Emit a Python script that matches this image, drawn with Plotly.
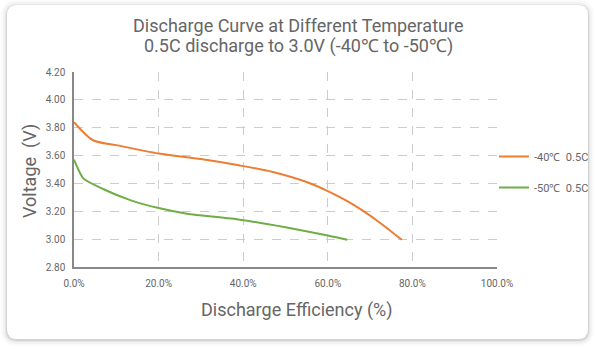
import plotly.graph_objects as go

# Data
eff_40 = [0, 4.5, 10, 20, 30, 39, 47, 55, 60, 64.5, 68, 72, 77.5]
volt_40 = [3.84, 3.71, 3.675, 3.615, 3.575, 3.53, 3.482, 3.41, 3.345, 3.275, 3.21, 3.125, 2.995]
eff_50 = [0, 2.2, 7, 13.3, 20, 26.7, 39.2, 50, 60, 64.6]
volt_50 = [3.57, 3.436, 3.358, 3.28, 3.223, 3.183, 3.14, 3.085, 3.026, 2.995]
names = ["-40℃  0.5C", "-50℃  0.5C"]
x_ticks = [0, 20, 40, 60, 80, 100]
y_ticks = [2.8, 3.0, 3.2, 3.4, 3.6, 3.8, 4.0, 4.2]
title_lines = ["Discharge Curve at Different Temperature", "0.5C discharge to 3.0V (-40℃ to -50℃)"]
x_title = "Discharge Efficiency (%)"
y_title = "Voltage  (V)"

FONT = "Roboto"
GRAY = "#666666"

W, H = 596, 349
L, R, T, B = 74, 99, 72, 82
pw, ph = W - L - R, H - T - B


def px2paper_x(px):
    return (px - L) / pw


def py2paper_y(py):
    return (H - B - py) / ph


def rounded_paper(x0, y0, x1, y1, r):
    rx = r / pw
    ry = r / ph
    X0, X1 = px2paper_x(x0), px2paper_x(x1)
    Y0, Y1 = py2paper_y(y1), py2paper_y(y0)
    return (f"M {X0+rx},{Y0} L {X1-rx},{Y0} Q {X1},{Y0} {X1},{Y0+ry} L {X1},{Y1-ry} "
            f"Q {X1},{Y1} {X1-rx},{Y1} L {X0+rx},{Y1} Q {X0},{Y1} {X0},{Y1-ry} "
            f"L {X0},{Y0+ry} Q {X0},{Y0} {X0+rx},{Y0} Z")


fig = go.Figure()
fig.add_trace(go.Scatter(x=eff_40, y=volt_40, mode="lines", name=names[0],
                         line=dict(color="#ED7D31", width=2, shape="spline", smoothing=0.8),
                         legendgroup="a"))
fig.add_trace(go.Scatter(x=eff_50, y=volt_50, mode="lines", name=names[1],
                         line=dict(color="#70AD47", width=2, shape="spline", smoothing=0.6),
                         legendgroup="b"))

shapes = []
for spread, op in [(6, 0.02), (4, 0.03), (2, 0.05), (1, 0.07)]:
    shapes.append(dict(type="path", xref="paper", yref="paper", layer="below",
                       path=rounded_paper(7 - spread, 5 - spread + 1, 588 + spread, 339 + spread + 1, 10 + spread),
                       line=dict(width=0), fillcolor=f"rgba(0,0,0,{op})"))
shapes.append(dict(type="path", xref="paper", yref="paper", layer="below",
                   path=rounded_paper(7, 5, 588, 339, 10),
                   line=dict(width=0), fillcolor="white"))

annotations = [
    dict(text=title_lines[0], xref="paper", yref="paper", x=px2paper_x(298), y=py2paper_y(26),
         xanchor="center", yanchor="middle", showarrow=False, font=dict(size=18, color=GRAY, family=FONT)),
    dict(text=title_lines[1], xref="paper", yref="paper", x=px2paper_x(298), y=py2paper_y(46),
         xanchor="center", yanchor="middle", showarrow=False, font=dict(size=18, color=GRAY, family=FONT)),
    dict(text=x_title, xref="paper", yref="paper", x=px2paper_x(297), y=py2paper_y(310),
         xanchor="center", yanchor="middle", showarrow=False, font=dict(size=18, color=GRAY, family=FONT)),
    dict(text=y_title, xref="paper", yref="paper", x=px2paper_x(30), y=py2paper_y(171),
         xanchor="center", yanchor="middle", textangle=-90, showarrow=False,
         font=dict(size=18, color=GRAY, family=FONT)),
]

fig.update_layout(
    width=W, height=H,
    margin=dict(l=L, r=R, t=T, b=B, autoexpand=False),
    paper_bgcolor="white", plot_bgcolor="rgba(0,0,0,0)",
    shapes=shapes,
    annotations=annotations,
    font=dict(family=FONT, color=GRAY),
    xaxis=dict(range=[0, 100], tickvals=x_ticks, ticktext=[f"{v:.1f}%" for v in x_ticks],
               showgrid=True, gridcolor="#cccccc", griddash="dash", gridwidth=1,
               showline=True, linecolor="#888888", linewidth=1.5, zeroline=False,
               ticks="", tickfont=dict(size=10, color=GRAY), ticklabelstandoff=6,
               automargin=False),
    yaxis=dict(range=[2.8, 4.2], tickvals=y_ticks, ticktext=[f"{v:.2f}" for v in y_ticks],
               showgrid=True, gridcolor="#cccccc", griddash="dash", gridwidth=1,
               showline=True, linecolor="#888888", linewidth=1.5, zeroline=False,
               ticks="", tickfont=dict(size=10, color=GRAY), ticklabelstandoff=5,
               automargin=False),
    legend=dict(xref="container", x=494 / W, xanchor="left",
                yref="container", y=1 - 172 / H, yanchor="middle",
                font=dict(size=11, color=GRAY, family=FONT), tracegroupgap=12,
                bgcolor="rgba(0,0,0,0)", itemwidth=30),
    showlegend=True,
)

fig.write_html("out.html")
